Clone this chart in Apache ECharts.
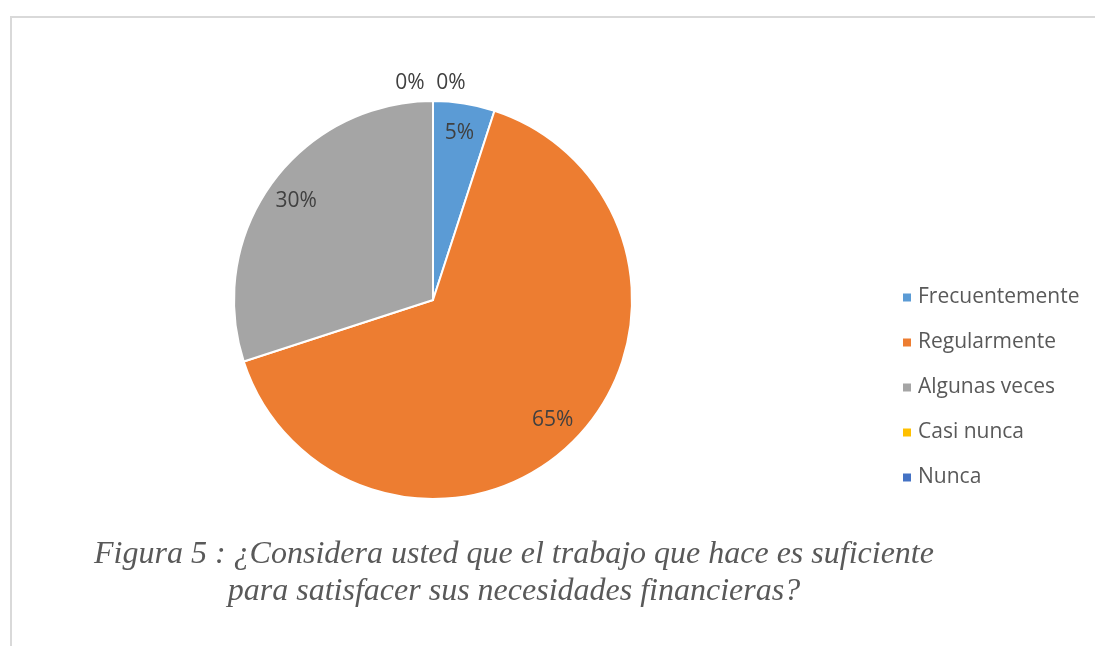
<!DOCTYPE html>
<html>
<head>
<meta charset="utf-8">
<script src="https://cdn.jsdelivr.net/npm/echarts@6/dist/echarts.min.js"></script>
<style>
  html, body { margin: 0; padding: 0; background: #fff; }
  #chart { width: 1095px; height: 646px; }
</style>
</head>
<body>
<div id="chart"></div>
<script>
// Survey answers and their shares (%)
const categories = ['Frecuentemente', 'Regularmente', 'Algunas veces', 'Casi nunca', 'Nunca'];
const shares = [5, 65, 30, 0, 0];
const sliceColors = ['#5B9BD5', '#ED7D31', '#A5A5A5', '#FFC000', '#4472C4'];

const captionLines = [
  'Figura 5 : ¿Considera usted que el trabajo que hace es suficiente',
  'para satisfacer sus necesidades financieras?'
];

// Pie geometry
const CX = 433, CY = 300, R = 199;
// Horizontal nudges for labels of empty slices (they sit on top of the pie)
const emptyLabelShift = { 3: -23, 4: 18 };

const pieData = categories.map((name, i) => ({
  name,
  value: shares[i],
  itemStyle: { color: sliceColors[i] }
}));

const chart = echarts.init(document.getElementById('chart'), null, { renderer: 'canvas' });

chart.setOption({
  animation: false,
  backgroundColor: '#ffffff',
  title: {
    text: captionLines.join('\n'),
    left: 514,
    top: 536,
    padding: 0,
    textAlign: 'center',
    textStyle: {
      fontFamily: '"Liberation Serif", "DejaVu Serif", serif',
      fontStyle: 'italic',
      fontWeight: 'normal',
      fontSize: 32,
      lineHeight: 37,
      color: '#595959'
    }
  },
  legend: {
    orient: 'vertical',
    left: 901,
    top: 287,
    padding: 0,
    icon: 'rect',
    itemWidth: 10,
    itemHeight: 10,
    itemGap: 24,
    data: categories,
    textStyle: {
      fontFamily: '"Open Sans", sans-serif',
      fontSize: 21,
      lineHeight: 21,
      color: '#595959',
      padding: [0, 0, 0, 1]
    }
  },
  graphic: [
    { type: 'line', silent: true, shape: { x1: 10, y1: 17, x2: 1095, y2: 17 }, style: { stroke: '#d9d9d9', lineWidth: 2 } },
    { type: 'line', silent: true, shape: { x1: 11, y1: 16, x2: 11, y2: 646 }, style: { stroke: '#d9d9d9', lineWidth: 2 } }
  ],
  series: [
    {
      name: 'Respuestas',
      type: 'pie',
      center: [CX, CY],
      radius: R,
      startAngle: 90,
      clockwise: true,
      avoidLabelOverlap: false,
      label: { show: false },
      labelLine: { show: false },
      itemStyle: { borderColor: '#ffffff', borderWidth: 2 },
      emphasis: { disabled: true },
      data: pieData
    },
    {
      // label ring: carries the percentage labels, draws no fill
      name: 'Etiquetas',
      type: 'pie',
      center: [CX, CY],
      radius: [R * 0.67, R],
      startAngle: 90,
      clockwise: true,
      silent: true,
      avoidLabelOverlap: false,
      percentPrecision: 0,
      itemStyle: { color: 'rgba(0,0,0,0)', borderWidth: 0 },
      emphasis: { disabled: true },
      labelLine: { show: false },
      label: {
        show: true,
        position: 'inside',
        formatter: '{d}%',
        fontFamily: '"Open Sans", sans-serif',
        fontSize: 21,
        color: '#404040'
      },
      labelLayout: function (p) {
        const shift = emptyLabelShift[p.dataIndex];
        if (shift !== undefined) {
          return { x: CX + shift, y: CY - R - 18, align: 'center', verticalAlign: 'middle' };
        }
        return {};
      },
      data: categories.map((name, i) => ({
        name,
        value: shares[i],
        label: shares[i] === 0 ? { position: 'outside' } : undefined
      }))
    }
  ]
});
</script>
</body>
</html>
